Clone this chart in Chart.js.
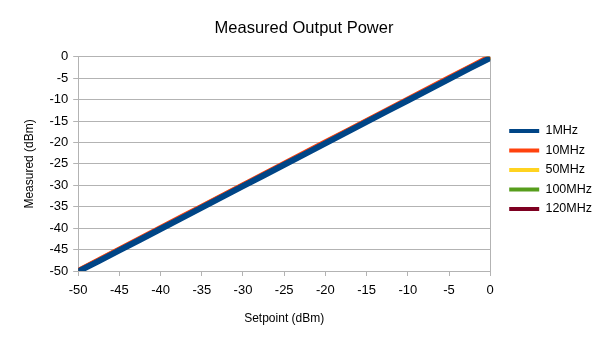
<!DOCTYPE html>
<html>
<head>
<meta charset="utf-8">
<title>Measured Output Power</title>
<script src="https://cdn.jsdelivr.net/npm/chart.js@4"></script>
<style>
  html, body { margin: 0; padding: 0; background: #fff; }
  #wrap { width: 605px; height: 340px; }
</style>
</head>
<body>
<div id="wrap"><canvas id="powerChart" width="605" height="340"></canvas></div>
<script>
// setpoint sweep (dBm) and measured output per carrier frequency
const setpoints = [-50, -47.5, -45, -42.5, -40, -37.5, -35, -32.5, -30, -27.5, -25,
                   -22.5, -20, -17.5, -15, -12.5, -10, -7.5, -5, -2.5, 0];
const meas1MHz   = [-50.1, -47.7, -45.2, -42.7, -40.2, -37.7, -35.2, -32.7, -30.2, -27.7, -25.2,
                    -22.7, -20.2, -17.7, -15.2, -12.7, -10.2, -7.7, -5.2, -2.7, -0.3];
const meas10MHz  = [-49.85, -47.35, -44.85, -42.35, -39.85, -37.35, -34.85, -32.35, -29.85, -27.35, -24.85,
                    -22.35, -19.85, -17.35, -14.85, -12.35, -9.85, -7.35, -4.85, -2.35, 0.15];
const meas50MHz  = [-50.0, -47.5, -45.0, -42.5, -40.0, -37.5, -35.0, -32.5, -30.0, -27.5, -25.0,
                    -22.5, -20.0, -17.5, -15.0, -12.5, -10.0, -7.5, -5.0, -2.5, 0.0];
const meas100MHz = [-50.0, -47.5, -45.0, -42.5, -40.0, -37.5, -35.0, -32.5, -30.0, -27.5, -25.0,
                    -22.5, -20.0, -17.5, -15.0, -12.5, -10.0, -7.5, -5.0, -2.5, -0.1];
const meas120MHz = [-50.0, -47.6, -45.1, -42.6, -40.1, -37.6, -35.1, -32.6, -30.1, -27.6, -25.1,
                    -22.6, -20.1, -17.6, -15.1, -12.6, -10.1, -7.6, -5.1, -2.6, -0.1];

const seriesNames  = ['1MHz', '10MHz', '50MHz', '100MHz', '120MHz'];
const seriesValues = [meas1MHz, meas10MHz, meas50MHz, meas100MHz, meas120MHz];
const seriesColors = ['#004586', '#ff420e', '#ffd320', '#579d1c', '#7e0021'];
const seriesWidths = [6, 5, 5, 5, 5];

const gridGray = '#b3b3b3';
const fontFamily = '"Liberation Sans", Arial, sans-serif';

const datasets = seriesNames.map((name, i) => ({
    label: name,
    data: setpoints.map((x, j) => ({ x: x, y: seriesValues[i][j] })),
    borderColor: seriesColors[i],
    backgroundColor: seriesColors[i],
    borderWidth: seriesWidths[i],
    pointRadius: 0,
    tension: 0
}));

// nudge the legend block away from the plot a little
const legendNudge = {
    id: 'legendNudge',
    afterLayout(chart) {
        const lg = chart.legend;
        if (!lg) return;
        lg.left += 12; lg.right += 12;
        lg.top += 3; lg.bottom += 3;
    }
};

const ctx = document.getElementById('powerChart').getContext('2d');
new Chart(ctx, {
    type: 'line',
    data: { datasets: datasets },
    plugins: [legendNudge],
    options: {
        responsive: false,
        animation: false,
        layout: { padding: { left: 18, right: 15, top: 4, bottom: 10 } },
        plugins: {
            title: {
                display: true,
                text: 'Measured Output Power',
                color: '#000',
                font: { family: fontFamily, size: 16.5, weight: 'normal' },
                padding: { top: 15, bottom: 18 }
            },
            legend: {
                position: 'right',
                align: 'center',
                labels: {
                    color: '#000',
                    boxWidth: 30,
                    boxHeight: 4,
                    padding: 7,
                    font: { family: fontFamily, size: 12.5 },
                    generateLabels(chart) {
                        return Chart.defaults.plugins.legend.labels.generateLabels(chart)
                            .map(item => Object.assign(item, { lineWidth: 0 }));
                    }
                }
            },
            tooltip: { enabled: false }
        },
        scales: {
            x: {
                type: 'linear',
                min: -50,
                max: 0,
                ticks: { stepSize: 5, color: '#000', font: { family: fontFamily, size: 13 }, padding: 7 },
                grid: {
                    color: c => c.tick && c.tick.value === 0 ? gridGray : 'transparent',
                    tickColor: gridGray,
                    tickLength: 5,
                    lineWidth: 1
                },
                border: { color: gridGray },
                title: {
                    display: true,
                    text: 'Setpoint (dBm)',
                    color: '#000',
                    font: { family: fontFamily, size: 12 },
                    padding: { top: 6 }
                }
            },
            y: {
                min: -50,
                max: 0,
                ticks: { stepSize: 5, color: '#000', font: { family: fontFamily, size: 13 }, padding: 5 },
                grid: { color: gridGray, tickColor: gridGray, tickLength: 5 },
                border: { color: gridGray },
                title: {
                    display: true,
                    text: 'Measured (dBm)',
                    color: '#000',
                    font: { family: fontFamily, size: 12 },
                    padding: { bottom: 8 }
                }
            }
        }
    }
});
</script>
</body>
</html>
